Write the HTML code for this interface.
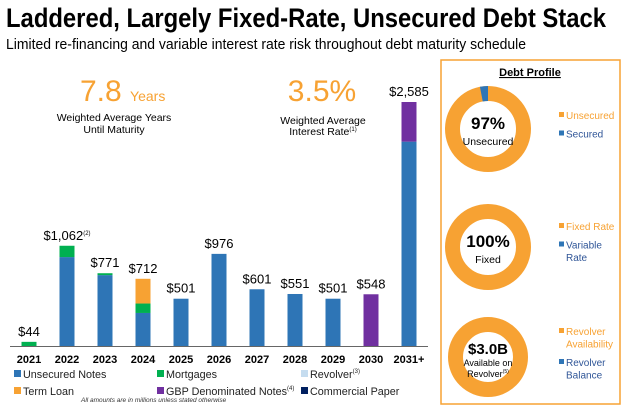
<!DOCTYPE html>
<html><head><meta charset="utf-8"><style>
html,body{margin:0;padding:0;background:#fff;}
svg{display:block;font-family:"Liberation Sans",sans-serif;}
</style></head><body>
<svg id="chart" width="624" height="408" viewBox="0 0 624 408">
<text x="6" y="27" font-size="27" font-weight="bold" fill="#000" textLength="600" lengthAdjust="spacingAndGlyphs">Laddered, Largely Fixed-Rate, Unsecured Debt Stack</text>
<text x="6" y="49" font-size="15" fill="#000" textLength="520" lengthAdjust="spacingAndGlyphs">Limited re-financing and variable interest rate risk throughout debt maturity schedule</text>
<text x="80" y="101" font-size="30" fill="#f7a233">7.8 <tspan font-size="14">Years</tspan></text>
<text x="114" y="121" font-size="10.5" text-anchor="middle" fill="#000">Weighted Average Years</text>
<text x="114" y="133" font-size="10.5" text-anchor="middle" fill="#000">Until Maturity</text>
<text x="322" y="101" font-size="30" fill="#f7a233" text-anchor="middle">3.5%</text>
<text x="323" y="124" font-size="10.5" text-anchor="middle" fill="#000">Weighted Average</text>
<text x="323" y="135" font-size="10.5" text-anchor="middle" fill="#000">Interest Rate<tspan font-size="6" dy="-4">(1)</tspan></text>
<g id="bars"></g>
<line x1="10" y1="346.5" x2="428" y2="346.5" stroke="#666" stroke-width="1"/>
<g id="legend" font-size="10.8" fill="#222"></g>
<text x="81" y="402" font-size="6.5" font-style="italic" fill="#333">All amounts are in millions unless stated otherwise</text>
<rect x="441" y="60" width="179" height="344" fill="none" stroke="#f7a233" stroke-width="1.5"/>
<text x="530" y="76" font-size="11" font-weight="bold" text-anchor="middle" text-decoration="underline" fill="#000">Debt Profile</text>
<g id="donuts"></g>
</svg>
<script>
const categories=["2021","2022","2023","2024","2025","2026","2027","2028","2029","2030","2031+"];
const unsecured=[0,942,751,350,501,976,601,551,501,0,2165];
const mortgages=[44,120,20,100,0,0,0,0,0,0,0];
const termLoan=[0,0,0,262,0,0,0,0,0,0,0];
const gbpNotes=[0,0,0,0,0,0,0,0,0,548,420];
const totals=["$44","$1,062","$771","$712","$501","$976","$601","$551","$501","$548","$2,585"];
const notes=["","(2)","","","","","","","","",""];
const NS="http://www.w3.org/2000/svg";
const base=346,scale=244/2585;
const xc=i=>29+i*38, yv=v=>v*scale;
const g=document.getElementById('bars');
function mk(tag,attrs,parent){const e=document.createElementNS(NS,tag);for(const k in attrs)e.setAttribute(k,attrs[k]);parent.appendChild(e);return e;}
const series=[[unsecured,"#2e75b6","unsecured"],[mortgages,"#00b050","mortgages"],[termLoan,"#f7a233","term-loan"],[gbpNotes,"#7030a0","gbp-notes"]];
categories.forEach((c,i)=>{
  let y=base;
  series.forEach(([arr,col,nm])=>{
    const h=yv(arr[i]); if(h<=0)return;
    y-=h;
    const r=mk('rect',{x:xc(i)-7.5,y:y,width:15,height:h,fill:col},g);
    
    
  });
  const t=mk('text',{x:xc(i),y:y-6,'font-size':13,'text-anchor':'middle',fill:'#000'},g);
  t.textContent=totals[i];
  if(notes[i]){const s=mk('tspan',{'font-size':6,dy:-5},t);s.textContent=notes[i];}
  
  
  const l=mk('text',{x:xc(i),y:363,'font-size':11,'font-weight':'bold','text-anchor':'middle',fill:'#000'},g);
  l.textContent=c;
  
  
});
const lg=document.getElementById('legend');
const legendItems=[["Unsecured Notes","#2e75b6",14,378,""],["Mortgages","#00b050",157,378,""],["Revolver","#c5dcef",301,378,"(3)"],["Term Loan","#f7a233",14,395,""],["GBP Denominated Notes","#7030a0",157,395,"(4)"],["Commercial Paper","#002060",301,395,""]];
legendItems.forEach(([n,col,x,y,sup])=>{
  const r=mk('rect',{x:x,y:y-8,width:7,height:7,fill:col},lg);
  
  
  const t=mk('text',{x:x+9,y:y},lg);t.textContent=n;
  if(sup){const s=mk('tspan',{'font-size':6,dy:-5},t);s.textContent=sup;}
  
  
});
const donutShares=[0.97,1.0,1.0];
const dg=document.getElementById('donuts');
const donuts=[[488,129,43,["97%","Unsecured"],["Unsecured","Secured"]],[488,247,43,["100%","Fixed"],["Fixed Rate","Variable|Rate"]],[488,357,40,["$3.0B","Available on","Revolver"],["Revolver|Availability","Revolver|Balance"]]];
donuts.forEach(([cx,cy,R,lab,leg],k)=>{
  const rm=R-7.5,sw=15;
  const c=mk('circle',{cx:cx,cy:cy,r:rm,fill:'none',stroke:'#f7a233','stroke-width':sw},dg);
  
  
  const rest=1-donutShares[k];
  if(rest>0){
    const a0=-Math.PI/2,a1=a0-rest*2*Math.PI;
    const p=mk('path',{d:`M${cx+rm*Math.cos(a1)},${cy+rm*Math.sin(a1)} A${rm},${rm} 0 0 1 ${cx+rm*Math.cos(a0)},${cy+rm*Math.sin(a0)}`,fill:'none',stroke:'#2e75b6','stroke-width':sw},dg);
    
    
  }
  const big=mk('text',{x:cx,y:lab.length>2?cy-3:cy,'font-size':lab.length>2?15:17,'font-weight':'bold','text-anchor':'middle',fill:'#000'},dg);
  big.textContent=lab[0];
  
  
  for(let j=1;j<lab.length;j++){
    const t=mk('text',{x:cx,y:(lab.length>2?cy+9:cy+16)+(j-1)*11,'font-size':lab.length>2?9:10.5,'text-anchor':'middle',fill:'#000'},dg);
    t.textContent=lab[j];
    if(k==2&&j==2){const s=mk('tspan',{'font-size':5,dy:-4},t);s.textContent='(5)';}
    
    
  }
  let ly=k==0?119:k==1?230:335;
  leg.forEach((entry,m)=>{
    const col=m==0?'#f7a233':'#2e75b6';
    const lines=entry.split('|');
    const r=mk('rect',{x:559,y:ly-7,width:5,height:5,fill:col},dg);
    
    
    lines.forEach((ln,q)=>{
      const t=mk('text',{x:566,y:ly+q*12.5,'font-size':10,fill:m==0?'#f7a233':'#2f5597'},dg);
      t.textContent=ln;
      
      
    });
    ly+=lines.length*12.5+6;
  });
});
</script>
</body></html>
